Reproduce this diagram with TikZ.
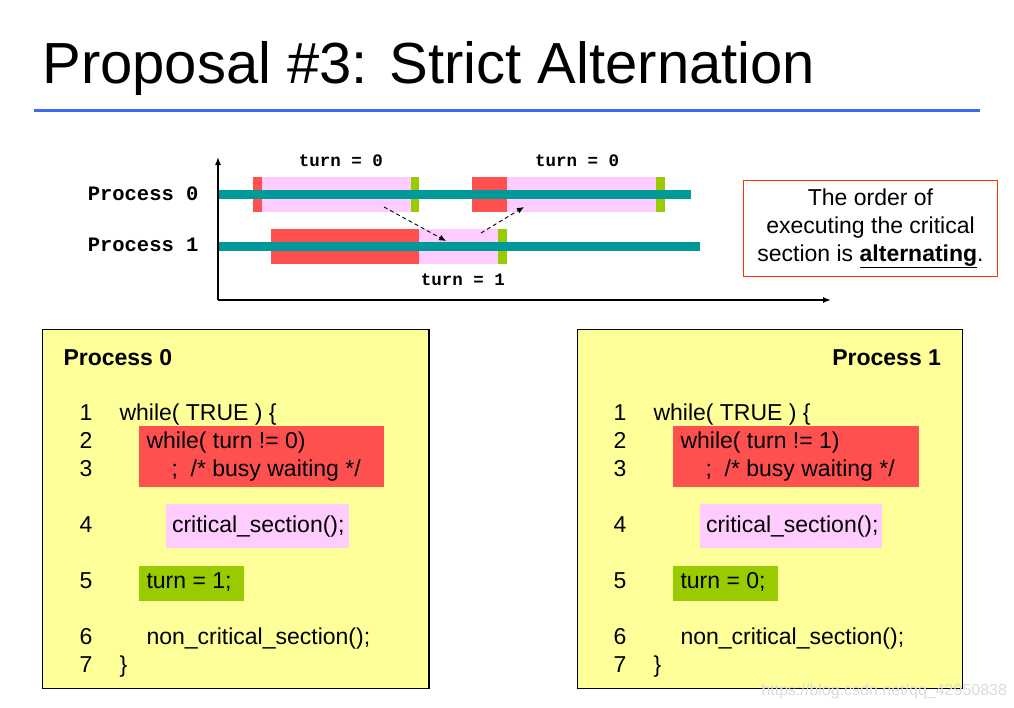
\documentclass[tikz,border=0pt]{standalone}
\usepackage{fontspec}
\setmainfont{Liberation Sans}
\setmonofont{Liberation Mono}
\usetikzlibrary{arrows.meta}
\definecolor{band}{RGB}{0,153,153}
\definecolor{busy}{RGB}{255,80,80}
\definecolor{crit}{RGB}{255,204,255}
\definecolor{flip}{RGB}{153,204,0}
\definecolor{pad}{RGB}{255,255,153}
\definecolor{rule}{RGB}{60,105,245}
\definecolor{frame}{RGB}{255,51,0}

\begin{document}
\begin{tikzpicture}[x=1pt,y=-1pt,line width=1pt,inner sep=0pt,
  code/.style={anchor=base west,font=\fontsize{23}{28}\selectfont},
  num/.style={anchor=base,font=\fontsize{23}{28}\selectfont},
  proc/.style={anchor=base east,font=\fontsize{20.5}{24}\selectfont\ttfamily\bfseries},
  turn/.style={anchor=base,font=\fontsize{17.5}{20}\selectfont\ttfamily\bfseries},
  hand/.style={-{Latex[length=7pt,width=6pt]},dash pattern=on 4pt off 3pt,line width=.9pt},
  axis/.style={-{Latex[length=8pt,width=6pt]},line width=1.4pt}]
\useasboundingbox (0,0) rectangle (1014,707);
\node[anchor=base west,font=\fontsize{58}{66}\selectfont] (title) at (42,83) {Proposal \#3: Strict Alternation};
\draw[rule,line width=3pt] (34,110)--(980,110);
\fill[busy] (253,177) rectangle (262,212);\fill[crit] (262,177) rectangle (411,212);\fill[flip] (411,177) rectangle (419,212);
\fill[busy] (472,177) rectangle (507,212);\fill[crit] (507,177) rectangle (656,212);\fill[flip] (656,177) rectangle (665,212);
\fill[busy] (271,229) rectangle (419,264);\fill[crit] (419,229) rectangle (498,264);\fill[flip] (498,229) rectangle (507,264);
\fill[band] (218,190) rectangle (691,199);\fill[band] (218,242) rectangle (700,251);
\coordinate (o) at (218,300);\coordinate (ytop) at (218,157);\coordinate (xend) at (831,300);
\draw[axis] (o)--(ytop);\draw[axis] (o)--(xend);
\node[proc] (p0) at (199,200.5) {Process 0};\node[proc] (p1) at (199,251.5) {Process 1};
\node[turn] (t0) at (341,166) {turn = 0};\node[turn] (t0b) at (577,166) {turn = 0};\node[turn] (t1) at (463,285) {turn = 1};
\coordinate (a0) at (384,207);\coordinate (b0) at (446,241);\coordinate (a1) at (481,233);\coordinate (b1) at (524,207);
\draw[hand] (a0)--(b0);\draw[hand] (a1)--(b1);
\node[draw=frame,line width=1.2pt,minimum width=254pt,minimum height=96pt,align=center,font=\fontsize{23}{28}\selectfont] (note) at (870.5,228.5) {The order of\\executing the critical\\section is \underline{\textbf{alternating}}.};
\draw[fill=pad,line width=1.3pt] (42.5,329.5) rectangle (429,688.5);
\draw[fill=pad,line width=1.3pt] (577.5,329.5) rectangle (962.5,688.5);
\fill[busy] (139,426) rectangle (384,487);\fill[crit] (166,504) rectangle (349,548);\fill[flip] (139,566) rectangle (244,601);
\fill[busy] (673,426) rectangle (919,487);\fill[crit] (700,504) rectangle (882,548);\fill[flip] (673,566) rectangle (778,601);
\node[code,font=\fontsize{23}{28}\selectfont\bfseries] (h0) at (63,365.5) {Process 0};
\node[code,anchor=base east,font=\fontsize{23}{28}\selectfont\bfseries] (h1) at (941.5,365.5) {Process 1};
\node[num] (l1) at (86,420) {1};\node[num] (l2) at (86,448) {2};\node[num] (l3) at (86,476) {3};\node[num] (l4) at (86,532) {4};
\node[num] (l5) at (86,588) {5};\node[num] (l6) at (86,644) {6};\node[num] (l7) at (86,672) {7};
\node[code] (c01) at (119,420) {while( TRUE ) \{};\node[code] (c02) at (146,448) {while( turn != 0)};
\node[code] (c03) at (171,476) {;\ \ /* busy waiting */};\node[code] (c04) at (171.5,532) {critical\_section();};
\node[code] (c05) at (146,588) {turn = 1;};\node[code] (c06) at (146,644) {non\_critical\_section();};\node[code] (c07) at (119,672) {\}};
\node[num] (r1) at (620,420) {1};\node[num] (r2) at (620,448) {2};\node[num] (r3) at (620,476) {3};\node[num] (r4) at (620,532) {4};
\node[num] (r5) at (620,588) {5};\node[num] (r6) at (620,644) {6};\node[num] (r7) at (620,672) {7};
\node[code] (c11) at (653,420) {while( TRUE ) \{};\node[code] (c12) at (680,448) {while( turn != 1)};
\node[code] (c13) at (705,476) {;\ \ /* busy waiting */};\node[code] (c14) at (705.5,532) {critical\_section();};
\node[code] (c15) at (680,588) {turn = 0;};\node[code] (c16) at (680,644) {non\_critical\_section();};\node[code] (c17) at (653,672) {\}};
\node[anchor=base west,font=\fontsize{16}{18}\selectfont,text=gray!28] (mark) at (761,695) {https://blog.csdn.net/qq\_42950838};
\end{tikzpicture}
\end{document}
